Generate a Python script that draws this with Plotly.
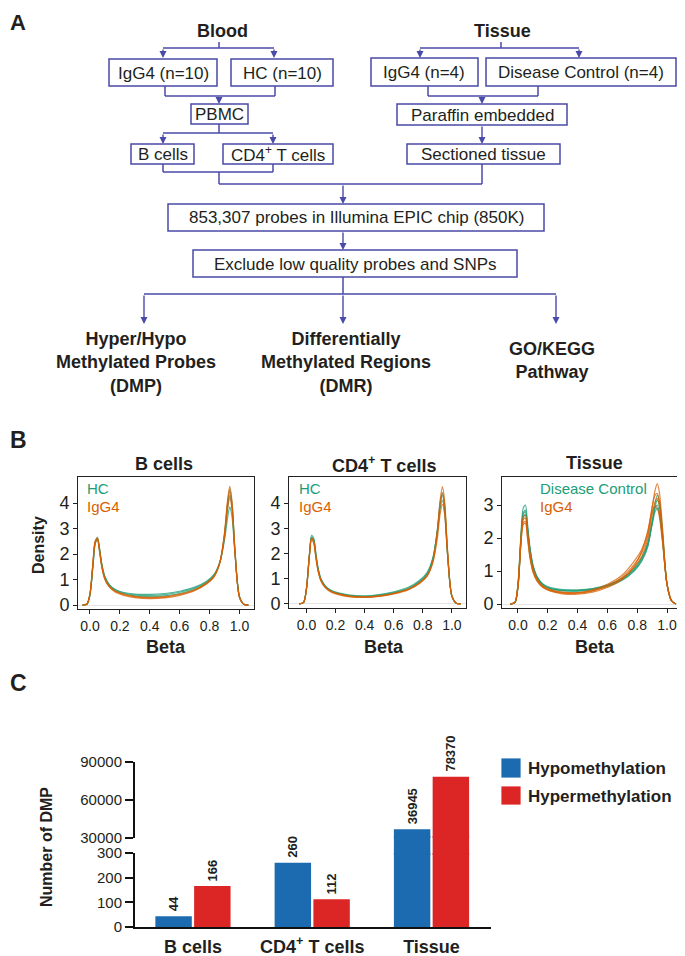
import plotly.graph_objects as go

# The page body has an 8 px default margin, so the figure is drawn 8 px in from the
# top-left corner; it is sized to end exactly at the 685x956 window edge.
PAGE_W, PAGE_H = 685, 956
OFF = 8
W, H = PAGE_W - OFF, PAGE_H - OFF
FONT = "Liberation Sans, Arial, sans-serif"
TXT = "#231f20"
FC = "#4a4aa8"      # flowchart line colour
GREEN = "#1B9E77"
ORANGE = "#D95F02"
BLUE = "#1c6bb0"
RED = "#dc2626"

# ---------------- Panel A texts ----------------
source_headers = ["Blood", "Tissue"]
blood_groups = ["IgG4 (n=10)", "HC (n=10)"]
tissue_groups = ["IgG4 (n=4)", "Disease Control (n=4)"]
blood_steps = ["PBMC"]
blood_cells = ["B cells", "CD4<sup>+</sup> T cells"]
tissue_steps = ["Paraffin embedded", "Sectioned tissue"]
common_steps = ["853,307 probes in Illumina EPIC chip (850K)", "Exclude low quality probes and SNPs"]
analyses = ["Hyper/Hypo<br>Methylated Probes<br>(DMP)",
            "Differentially<br>Methylated Regions<br>(DMR)",
            "GO/KEGG<br>Pathway"]

# ---------------- Panel B data (density of beta values) ----------------
beta_grid = [-0.05, -0.02, 0.0, 0.02, 0.035, 0.05, 0.065, 0.08, 0.1, 0.13, 0.17, 0.22, 0.3, 0.4,
             0.5, 0.6, 0.7, 0.78, 0.83, 0.87, 0.9, 0.92, 0.935, 0.95, 0.97, 1.0, 1.03, 1.06]

bcell_hc = [
    [0, 0.04, 0.40, 1.55, 2.40, 2.60, 2.15, 1.55, 1.10, 0.78, 0.60, 0.50, 0.43, 0.42, 0.45, 0.54, 0.70, 0.93, 1.20, 1.70, 2.55, 3.40, 3.85, 3.45, 2.00, 0.35, 0.03, 0],
    [0, 0.03, 0.38, 1.50, 2.45, 2.65, 2.20, 1.60, 1.12, 0.80, 0.60, 0.48, 0.40, 0.38, 0.41, 0.50, 0.66, 0.90, 1.18, 1.72, 2.70, 3.80, 4.30, 3.85, 2.10, 0.32, 0.03, 0],
    [0, 0.03, 0.42, 1.60, 2.42, 2.55, 2.10, 1.50, 1.05, 0.74, 0.56, 0.45, 0.36, 0.33, 0.36, 0.45, 0.62, 0.86, 1.12, 1.68, 2.75, 3.95, 4.55, 4.00, 2.15, 0.30, 0.02, 0],
]
bcell_igg4 = [
    [0, 0.04, 0.45, 1.65, 2.50, 2.60, 2.10, 1.50, 1.02, 0.72, 0.53, 0.42, 0.32, 0.28, 0.31, 0.41, 0.58, 0.84, 1.12, 1.70, 2.80, 4.00, 4.45, 3.90, 2.05, 0.30, 0.02, 0],
    [0, 0.04, 0.43, 1.62, 2.45, 2.55, 2.05, 1.45, 1.00, 0.70, 0.50, 0.39, 0.29, 0.25, 0.28, 0.38, 0.56, 0.82, 1.10, 1.70, 2.85, 4.10, 4.65, 4.05, 2.10, 0.30, 0.02, 0],
    [0, 0.04, 0.44, 1.64, 2.50, 2.62, 2.12, 1.52, 1.04, 0.73, 0.55, 0.44, 0.34, 0.30, 0.33, 0.43, 0.60, 0.86, 1.14, 1.68, 2.70, 3.75, 4.20, 3.75, 2.00, 0.32, 0.03, 0],
]
cd4_hc = [
    [0, 0.06, 0.60, 1.90, 2.65, 2.55, 1.95, 1.40, 0.98, 0.70, 0.52, 0.42, 0.33, 0.30, 0.35, 0.45, 0.62, 0.90, 1.20, 1.80, 2.90, 3.95, 4.30, 3.80, 2.00, 0.30, 0.03, 0],
    [0, 0.06, 0.62, 1.95, 2.72, 2.60, 2.00, 1.42, 1.00, 0.72, 0.54, 0.44, 0.35, 0.32, 0.37, 0.48, 0.66, 0.95, 1.25, 1.85, 2.85, 3.80, 4.10, 3.65, 1.95, 0.32, 0.03, 0],
    [0, 0.05, 0.58, 1.88, 2.60, 2.50, 1.92, 1.38, 0.96, 0.68, 0.50, 0.40, 0.31, 0.28, 0.33, 0.43, 0.60, 0.88, 1.18, 1.80, 2.95, 4.05, 4.40, 3.90, 2.05, 0.30, 0.03, 0],
]
cd4_igg4 = [
    [0, 0.06, 0.62, 1.92, 2.60, 2.45, 1.85, 1.32, 0.92, 0.66, 0.49, 0.39, 0.30, 0.27, 0.31, 0.41, 0.57, 0.84, 1.12, 1.70, 2.80, 4.00, 4.40, 3.90, 2.10, 0.32, 0.03, 0],
    [0, 0.06, 0.60, 1.90, 2.55, 2.40, 1.82, 1.30, 0.90, 0.64, 0.47, 0.37, 0.28, 0.26, 0.30, 0.40, 0.56, 0.82, 1.10, 1.72, 2.90, 4.15, 4.65, 4.10, 2.15, 0.30, 0.03, 0],
    [0, 0.05, 0.60, 1.90, 2.62, 2.48, 1.88, 1.34, 0.94, 0.67, 0.50, 0.40, 0.31, 0.28, 0.32, 0.42, 0.58, 0.85, 1.12, 1.66, 2.60, 3.60, 3.95, 3.55, 1.95, 0.33, 0.03, 0],
]
tissue_dc = [
    [0, 0.05, 0.60, 2.10, 2.90, 3.00, 2.40, 1.75, 1.20, 0.82, 0.60, 0.50, 0.44, 0.43, 0.47, 0.58, 0.78, 1.08, 1.40, 1.85, 2.50, 2.90, 3.00, 2.75, 1.95, 0.60, 0.10, 0],
    [0, 0.05, 0.55, 2.00, 2.75, 2.85, 2.30, 1.70, 1.18, 0.80, 0.58, 0.47, 0.41, 0.40, 0.45, 0.55, 0.74, 1.02, 1.32, 1.75, 2.45, 2.95, 3.15, 2.95, 2.10, 0.62, 0.10, 0],
    [0, 0.05, 0.50, 1.90, 2.60, 2.70, 2.20, 1.62, 1.12, 0.77, 0.56, 0.46, 0.40, 0.39, 0.43, 0.53, 0.72, 1.00, 1.30, 1.72, 2.45, 3.05, 3.30, 3.10, 2.20, 0.60, 0.10, 0],
    [0, 0.05, 0.52, 1.95, 2.70, 2.80, 2.25, 1.65, 1.15, 0.79, 0.57, 0.47, 0.42, 0.41, 0.46, 0.57, 0.77, 1.06, 1.38, 1.80, 2.40, 2.80, 2.90, 2.70, 1.95, 0.60, 0.10, 0],
]
tissue_igg4 = [
    [0, 0.05, 0.55, 1.85, 2.45, 2.50, 2.00, 1.45, 1.00, 0.70, 0.50, 0.40, 0.33, 0.33, 0.40, 0.55, 0.82, 1.20, 1.55, 2.05, 2.90, 3.45, 3.65, 3.35, 2.30, 0.60, 0.10, 0],
    [0, 0.05, 0.55, 1.90, 2.55, 2.60, 2.10, 1.50, 1.05, 0.72, 0.52, 0.42, 0.35, 0.35, 0.43, 0.60, 0.88, 1.30, 1.65, 2.15, 2.95, 3.30, 3.35, 3.05, 2.10, 0.60, 0.10, 0],
    [0, 0.05, 0.60, 2.00, 2.65, 2.70, 2.20, 1.58, 1.10, 0.75, 0.54, 0.43, 0.36, 0.34, 0.40, 0.54, 0.78, 1.12, 1.45, 1.95, 2.70, 3.10, 3.20, 2.95, 2.00, 0.58, 0.10, 0],
    [0, 0.05, 0.50, 1.80, 2.40, 2.45, 1.95, 1.42, 0.98, 0.68, 0.49, 0.39, 0.31, 0.30, 0.36, 0.50, 0.75, 1.15, 1.60, 2.20, 2.80, 2.95, 2.90, 2.60, 1.85, 0.62, 0.10, 0],
]
beta_ticks = [0.0, 0.2, 0.4, 0.6, 0.8, 1.0]
panel_b_titles = ["B cells", "CD4<sup>+</sup> T cells", "Tissue"]
panel_b_groups = [["HC", "IgG4"], ["HC", "IgG4"], ["Disease Control", "IgG4"]]

# ---------------- Panel C data ----------------
dmp_categories = ["B cells", "CD4<sup>+</sup> T cells", "Tissue"]
dmp_hypo = [44, 260, 36945]
dmp_hyper = [166, 112, 78370]
dmp_series = ["Hypomethylation", "Hypermethylation"]
low_ticks = [0, 100, 200, 300]
high_ticks = [30000, 60000, 90000]


def px(x):
    return (x - OFF) / W


def py(y):
    return 1 - (y - OFF) / H


shapes = []
annotations = []


def rect(x0, x1, y0, y1, color=FC, fill="rgba(0,0,0,0)", lw=1.5):
    shapes.append(dict(type="rect", xref="paper", yref="paper", x0=px(x0), x1=px(x1),
                       y0=py(y1), y1=py(y0), line=dict(color=color, width=lw), fillcolor=fill,
                       layer="above"))


def seg(x0, y0, x1, y1):
    shapes.append(dict(type="line", xref="paper", yref="paper", x0=px(x0), y0=py(y0),
                       x1=px(x1), y1=py(y1), line=dict(color=FC, width=1.5)))


def arrow(x, y0, y1):
    annotations.append(dict(x=px(x), y=py(y1), xref="paper", yref="paper", text="",
                            showarrow=True, ax=0, ay=-(y1 - y0), axref="pixel", ayref="pixel",
                            arrowhead=2, arrowsize=1.0, arrowwidth=1.4, arrowcolor=FC, standoff=0))


def text(x, y, s, size=18, bold=False, color=TXT, xanchor="center", yanchor="middle", angle=0):
    annotations.append(dict(x=px(x), y=py(y), xref="paper", yref="paper", text=s, showarrow=False,
                            xanchor=xanchor, yanchor=yanchor, textangle=angle,
                            font=dict(family=FONT, size=size, color=color,
                                      weight="bold" if bold else "normal")))


def box(x0, x1, y0, y1, s):
    rect(x0, x1, y0, y1)
    text((x0 + x1) / 2, (y0 + y1) / 2 + 0.5, s, size=17)


# ---------------- Panel A drawing ----------------
text(8, 8, "A", size=22, bold=True, xanchor="left", yanchor="top")
text(222, 31, source_headers[0], size=18, bold=True)
text(502, 31, source_headers[1], size=18, bold=True)

# blood branch
seg(219, 42, 219, 48); seg(163, 48, 274, 48)
arrow(163, 48, 58); arrow(274, 48, 58)
box(109, 217, 59, 86, blood_groups[0])
box(231, 333, 59, 86, blood_groups[1])
seg(165, 86, 165, 96); seg(275, 86, 275, 96); seg(165, 96, 275, 96)
arrow(219, 96, 104)
box(191, 248, 104, 124, blood_steps[0])
seg(219, 124, 219, 133); seg(163, 133, 273, 133)
arrow(163, 133, 144); arrow(273, 133, 144)
box(131, 194, 144, 164, blood_cells[0])
box(223, 333, 144, 164, blood_cells[1])
seg(163, 164, 163, 172); seg(273, 164, 273, 172); seg(163, 172, 273, 172)
seg(219, 172, 219, 184)

# tissue branch
seg(501, 42, 501, 48); seg(420, 48, 579, 48)
arrow(420, 48, 58); arrow(579, 48, 58)
box(371, 478, 58, 86, tissue_groups[0])
box(486, 676, 58, 86, tissue_groups[1])
seg(428, 86, 428, 96); seg(538, 86, 538, 96); seg(428, 96, 538, 96)
arrow(482, 96, 104)
box(397, 567, 104, 125, tissue_steps[0])
arrow(482, 125, 144)
box(407, 560, 144, 164, tissue_steps[1])
seg(482, 164, 482, 184)

# merge
seg(219, 184, 482, 184)
arrow(343, 184, 204)
box(168, 544, 204, 231, common_steps[0])
arrow(343, 231, 250)
box(193, 517, 250, 277, common_steps[1])
seg(343, 277, 343, 294); seg(144, 294, 556, 294)
arrow(144, 294, 324); arrow(343, 294, 324); arrow(556, 294, 324)
text(136, 362, analyses[0], size=18, bold=True)
text(346, 362, analyses[1], size=18, bold=True)
text(552, 360, analyses[2], size=18, bold=True)

# ---------------- Panel B ----------------
text(8, 440, "B", size=23, bold=True, xanchor="left")

fig = go.Figure()

panels = [
    dict(hc=bcell_hc, ig=bcell_igg4, box=(78, 254, 477, 609), xr=[-0.08, 1.097], yr=[-0.157, 5.02],
         yt=[0, 1, 2, 3, 4], title=(164, 464), beta=166, leg=85),
    dict(hc=cd4_hc, ig=cd4_igg4, box=(289, 466, 477, 608), xr=[-0.12, 1.097], yr=[-0.16, 5.03],
         yt=[0, 1, 2, 3, 4], title=(384, 464), beta=384, leg=297),
    dict(hc=tissue_dc, ig=tissue_igg4, box=(502, 677, 477, 608), xr=[-0.107, 1.067], yr=[-0.12, 3.85],
         yt=[0, 1, 2, 3], title=(594, 463), beta=595, leg=538),
]

layout_axes = {}
for i, p in enumerate(panels):
    n = "" if i == 0 else str(i + 1)
    xa, ya = "x" + n, "y" + n
    for curves, col in ((p["hc"], GREEN), (p["ig"], ORANGE)):
        for c in curves:
            fig.add_trace(go.Scatter(x=beta_grid, y=c, mode="lines", xaxis=xa, yaxis=ya,
                                     line=dict(color=col, width=1.2, shape="spline", smoothing=0.8),
                                     opacity=0.75, hoverinfo="skip", showlegend=False))
    x0, x1, y0, y1 = p["box"]
    common = dict(showline=True, mirror=True, linecolor="#222", linewidth=1, ticks="outside",
                  ticklen=4, tickcolor="#222", showgrid=False, automargin=False)
    layout_axes["xaxis" + n] = dict(domain=[px(x0), px(x1)], range=p["xr"], anchor=ya,
                                    tickvals=beta_ticks, ticktext=["%.1f" % t for t in beta_ticks],
                                    tickfont=dict(family=FONT, size=14, color=TXT), zeroline=False,
                                    **common)
    layout_axes["yaxis" + n] = dict(domain=[py(y1), py(y0)], range=p["yr"], anchor=xa,
                                    tickvals=p["yt"], tickfont=dict(family=FONT, size=18, color=TXT),
                                    zeroline=True, zerolinecolor="#e4e4e4", zerolinewidth=1,
                                    **common)
    text(p["title"][0], p["title"][1], panel_b_titles[i], size=18, bold=True)
    text(p["beta"], 647, "Beta", size=18, bold=True)
    text(p["leg"], 489, panel_b_groups[i][0], size=15, color=GREEN, xanchor="left")
    text(p["leg"], 507, panel_b_groups[i][1], size=15, color=ORANGE, xanchor="left")

text(38, 545, "Density", size=16, bold=True, angle=-90)

# ---------------- Panel C ----------------
text(8, 683, "C", size=23, bold=True, xanchor="left")

xpos = list(range(len(dmp_categories)))
for ya in ("y4", "y5", "y6"):
    for vals, col in ((dmp_hypo, BLUE), (dmp_hyper, RED)):
        fig.add_trace(go.Bar(x=xpos, y=vals, xaxis="x4", yaxis=ya,
                             marker=dict(color=col, line=dict(width=0)),
                             hoverinfo="skip", showlegend=False))

cax = dict(showline=True, linecolor="#111", linewidth=2, ticks="outside", ticklen=8,
           tickwidth=2, tickcolor="#111", showgrid=False, zeroline=False, automargin=False,
           tickfont=dict(family=FONT, size=15, color=TXT))
layout_axes["xaxis4"] = dict(domain=[px(135), px(491)], range=[-0.486, 2.499], anchor="y4",
                             showline=True, linecolor="#111", linewidth=2, ticks="",
                             tickvals=xpos, ticktext=dmp_categories, showgrid=False, zeroline=False,
                             ticklabelstandoff=2, automargin=False,
                             tickfont=dict(family=FONT, size=18, color=TXT, weight="bold"))
layout_axes["yaxis4"] = dict(domain=[py(927), py(853)], range=[0, 300], anchor="x4",
                             tickvals=low_ticks, **cax)
# gap-filling strip between the two axis segments (slightly overlapping to avoid seams)
layout_axes["yaxis5"] = dict(domain=[py(855), py(836)], range=[300, 30000], anchor="x4",
                             visible=False, automargin=False)
layout_axes["yaxis6"] = dict(domain=[py(838), py(762)], range=[30000, 90000], anchor="x4",
                             tickvals=high_ticks, tickformat="d", **cax)

bargap, groupgap = 0.35, 0.06
offset = (1 - bargap) / 4
for i in xpos:
    for vals, sign in ((dmp_hypo, -1), (dmp_hyper, 1)):
        v = vals[i]
        annotations.append(dict(x=i + sign * offset, y=v, xref="x4",
                                yref="y6" if v > 300 else "y4", text="<b>%d</b>" % v,
                                showarrow=False, textangle=-90, xanchor="center", yanchor="bottom",
                                yshift=3, font=dict(family=FONT, size=13, color=TXT)))

text(46, 847, "Number of DMP", size=16, bold=True, angle=-90)

# legend for panel C
rect(501, 521, 758, 778, color="rgba(255,255,255,0.8)", fill=BLUE, lw=1)
rect(501, 521, 786, 805, color="rgba(255,255,255,0.8)", fill=RED, lw=1)
text(526, 768, dmp_series[0], size=17, bold=True, xanchor="left")
text(526, 796, dmp_series[1], size=17, bold=True, xanchor="left")

fig.update_layout(width=W, height=H, margin=dict(l=0, r=0, t=0, b=0, autoexpand=False),
                  paper_bgcolor="white", plot_bgcolor="rgba(0,0,0,0)", showlegend=False,
                  barmode="group", bargap=bargap, bargroupgap=groupgap,
                  shapes=shapes, annotations=annotations, **layout_axes)

fig.write_html("out.html")
